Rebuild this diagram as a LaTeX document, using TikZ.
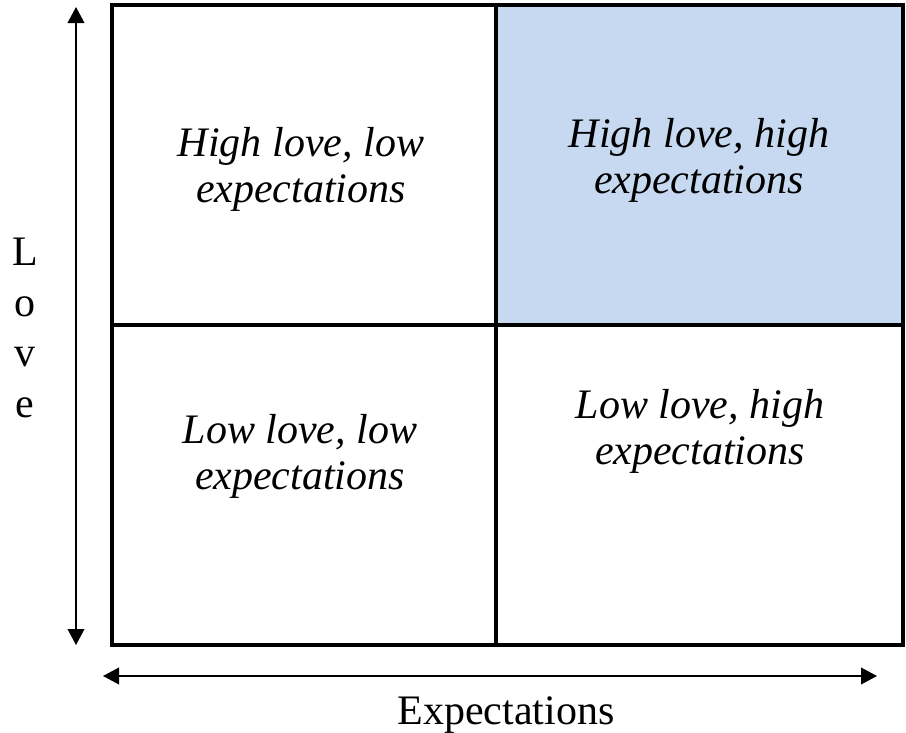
\documentclass[tikz,border=0pt]{standalone}
\usepackage{fontspec}
\setmainfont{Liberation Serif}
\usetikzlibrary{arrows.meta}
\definecolor{cellblue}{HTML}{C6D9F0}
\begin{document}
\begin{tikzpicture}[x=0.75pt,y=-0.75pt,
  cell/.style={draw=black, line width=2.3pt, inner sep=0pt, outer sep=0pt, anchor=north west, minimum height=240pt},
  quad/.style={font=\fontsize{31.5pt}{34.5pt}\selectfont\itshape, align=center, inner sep=0pt},
  axislabel/.style={font=\fontsize{31.5pt}{38pt}\selectfont, align=center, inner sep=0pt},
  tip/.tip={Triangle[length=12pt,width=12.5pt]},
  axis/.style={line width=1.2pt, tip-tip}]
\useasboundingbox (0,0) rectangle (906,732);
% cells
\node[cell, minimum width=288pt] (tl) at (112,5) {};
\node[cell, minimum width=305.25pt, fill=cellblue] (tr) at (496,5) {};
\node[cell, minimum width=288pt] (bl) at (112,325) {};
\node[cell, minimum width=305.25pt] (br) at (496,325) {};
% quadrant texts
\node[quad] (tltext) at (301,169) {High love, low\\expectations};
\node[quad] (trtext) at (699,160) {High love, high\\expectations};
\node[quad] (bltext) at (300,456) {Low love, low\\expectations};
\node[quad] (brtext) at (700,431) {Low love, high\\expectations};
% axes
\coordinate (vtop) at (76,7);
\coordinate (vbot) at (76,645);
\coordinate (hleft) at (103,676);
\coordinate (hright) at (877,676);
\draw[axis] (vtop) -- (vbot);
\draw[axis] (hleft) -- (hright);
% axis labels
\node[axislabel] (love) at (25,328) {L\\o\\v\\e};
\node[axislabel, anchor=base] (expect) at (506,724) {Expectations};
\end{tikzpicture}
\end{document}
